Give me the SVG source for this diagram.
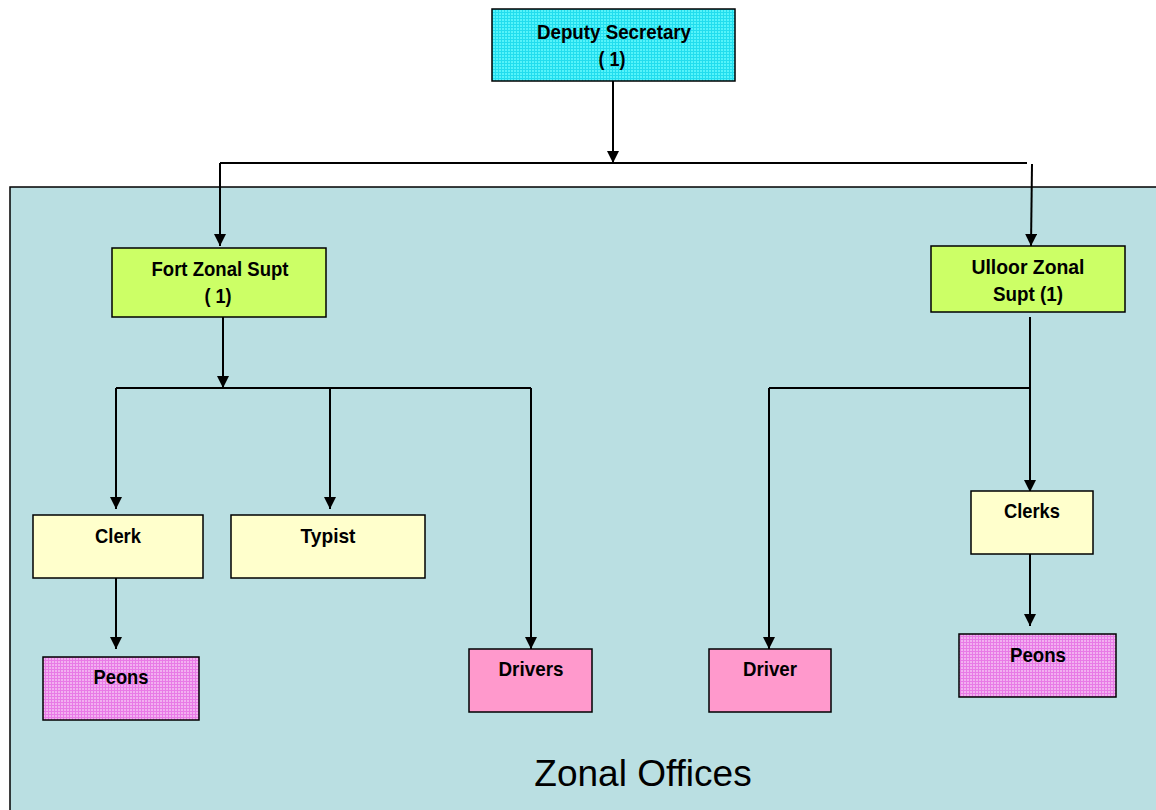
<svg xmlns="http://www.w3.org/2000/svg" width="1156" height="810" viewBox="0 0 1156 810">
<style>
.box{stroke:#000;stroke-width:1.5}
.lbl{font-family:"Liberation Sans",Arial,sans-serif;font-weight:bold;font-size:21px;text-anchor:middle;fill:#000}
.ln{stroke:#000;stroke-width:2;fill:none}
.arr{stroke:#000;stroke-width:2;fill:none;marker-end:url(#ah)}
</style>
<defs>
<marker id="ah" markerWidth="12" markerHeight="12" refX="12" refY="6" orient="auto" markerUnits="userSpaceOnUse">
<path d="M0,0 L12,6 L0,12 Z" fill="#000"/>
</marker>
<pattern id="pc" width="3" height="3" patternUnits="userSpaceOnUse">
<rect width="3" height="3" fill="#55F4FA"/>
<path d="M0,0.5H3M0.5,0V3" stroke="#22DDEE" stroke-width="1"/>
</pattern>
<pattern id="pp" width="3" height="3" patternUnits="userSpaceOnUse">
<rect width="3" height="3" fill="#F2B0F0"/>
<path d="M0,0.5H3M0.5,0V3" stroke="#E87AE6" stroke-width="1"/>
</pattern>
</defs>
<rect width="1156" height="810" fill="#fff"/>
<g id="panel">
<rect x="10" y="187" width="1160" height="640" fill="#BADFE2" stroke="#000" stroke-width="1.5"/>
<text x="643" y="786" font-family="'Liberation Sans',Arial,sans-serif" font-size="37" text-anchor="middle" fill="#000">Zonal Offices</text>
</g>
<g id="connectors">
<line class="arr" x1="613" y1="81" x2="613" y2="163"/>
<line class="ln" x1="220" y1="163" x2="1027" y2="163"/>
<line class="arr" x1="220" y1="163" x2="220" y2="246"/>
<line class="arr" x1="1032" y1="164" x2="1031" y2="246"/>
<line class="arr" x1="223" y1="317" x2="223" y2="388"/>
<line class="ln" x1="116" y1="388" x2="531" y2="388"/>
<line class="arr" x1="116" y1="388" x2="116" y2="509"/>
<line class="arr" x1="330" y1="388" x2="330" y2="509"/>
<line class="arr" x1="531" y1="388" x2="531" y2="649"/>
<line class="arr" x1="116" y1="575" x2="116" y2="649"/>
<line class="arr" x1="1030" y1="317" x2="1030" y2="492"/>
<line class="ln" x1="769" y1="388" x2="1030" y2="388"/>
<line class="arr" x1="769" y1="388" x2="769" y2="649"/>
<line class="arr" x1="1030" y1="551" x2="1030" y2="626"/>
</g>
<g id="deputy">
<rect class="box" x="492" y="9" width="243" height="72" fill="url(#pc)"/>
<text class="lbl" x="614" y="39" textLength="154" lengthAdjust="spacingAndGlyphs">Deputy Secretary</text>
<text class="lbl" x="612" y="66" textLength="27" lengthAdjust="spacingAndGlyphs">( 1)</text>
</g>
<g id="fort">
<rect class="box" x="112" y="248" width="214" height="69" fill="#CCFF66"/>
<text class="lbl" x="220" y="276" textLength="137" lengthAdjust="spacingAndGlyphs">Fort Zonal Supt</text>
<text class="lbl" x="218" y="303" textLength="27" lengthAdjust="spacingAndGlyphs">( 1)</text>
</g>
<g id="ulloor">
<rect class="box" x="931" y="246" width="194" height="66" fill="#CCFF66"/>
<text class="lbl" x="1028" y="274" textLength="113" lengthAdjust="spacingAndGlyphs">Ulloor  Zonal</text>
<text class="lbl" x="1028" y="301" textLength="70" lengthAdjust="spacingAndGlyphs">Supt (1)</text>
</g>
<g id="clerk">
<rect class="box" x="33" y="515" width="170" height="63" fill="#FFFFCC"/>
<text class="lbl" x="118" y="543" textLength="46" lengthAdjust="spacingAndGlyphs">Clerk</text>
</g>
<g id="typist">
<rect class="box" x="231" y="515" width="194" height="63" fill="#FFFFCC"/>
<text class="lbl" x="328" y="543" textLength="55" lengthAdjust="spacingAndGlyphs">Typist</text>
</g>
<g id="peons-left">
<rect class="box" x="43" y="657" width="156" height="63" fill="url(#pp)"/>
<text class="lbl" x="121" y="684" textLength="55" lengthAdjust="spacingAndGlyphs">Peons</text>
</g>
<g id="drivers">
<rect class="box" x="469" y="649" width="123" height="63" fill="#FF99CC"/>
<text class="lbl" x="531" y="676" textLength="65" lengthAdjust="spacingAndGlyphs">Drivers</text>
</g>
<g id="driver">
<rect class="box" x="709" y="649" width="122" height="63" fill="#FF99CC"/>
<text class="lbl" x="770" y="676" textLength="54" lengthAdjust="spacingAndGlyphs">Driver</text>
</g>
<g id="clerks">
<rect class="box" x="971" y="491" width="122" height="63" fill="#FFFFCC"/>
<text class="lbl" x="1032" y="518" textLength="56" lengthAdjust="spacingAndGlyphs">Clerks</text>
</g>
<g id="peons-right">
<rect class="box" x="959" y="634" width="157" height="63" fill="url(#pp)"/>
<text class="lbl" x="1038" y="662" textLength="56" lengthAdjust="spacingAndGlyphs">Peons</text>
</g>
</svg>
